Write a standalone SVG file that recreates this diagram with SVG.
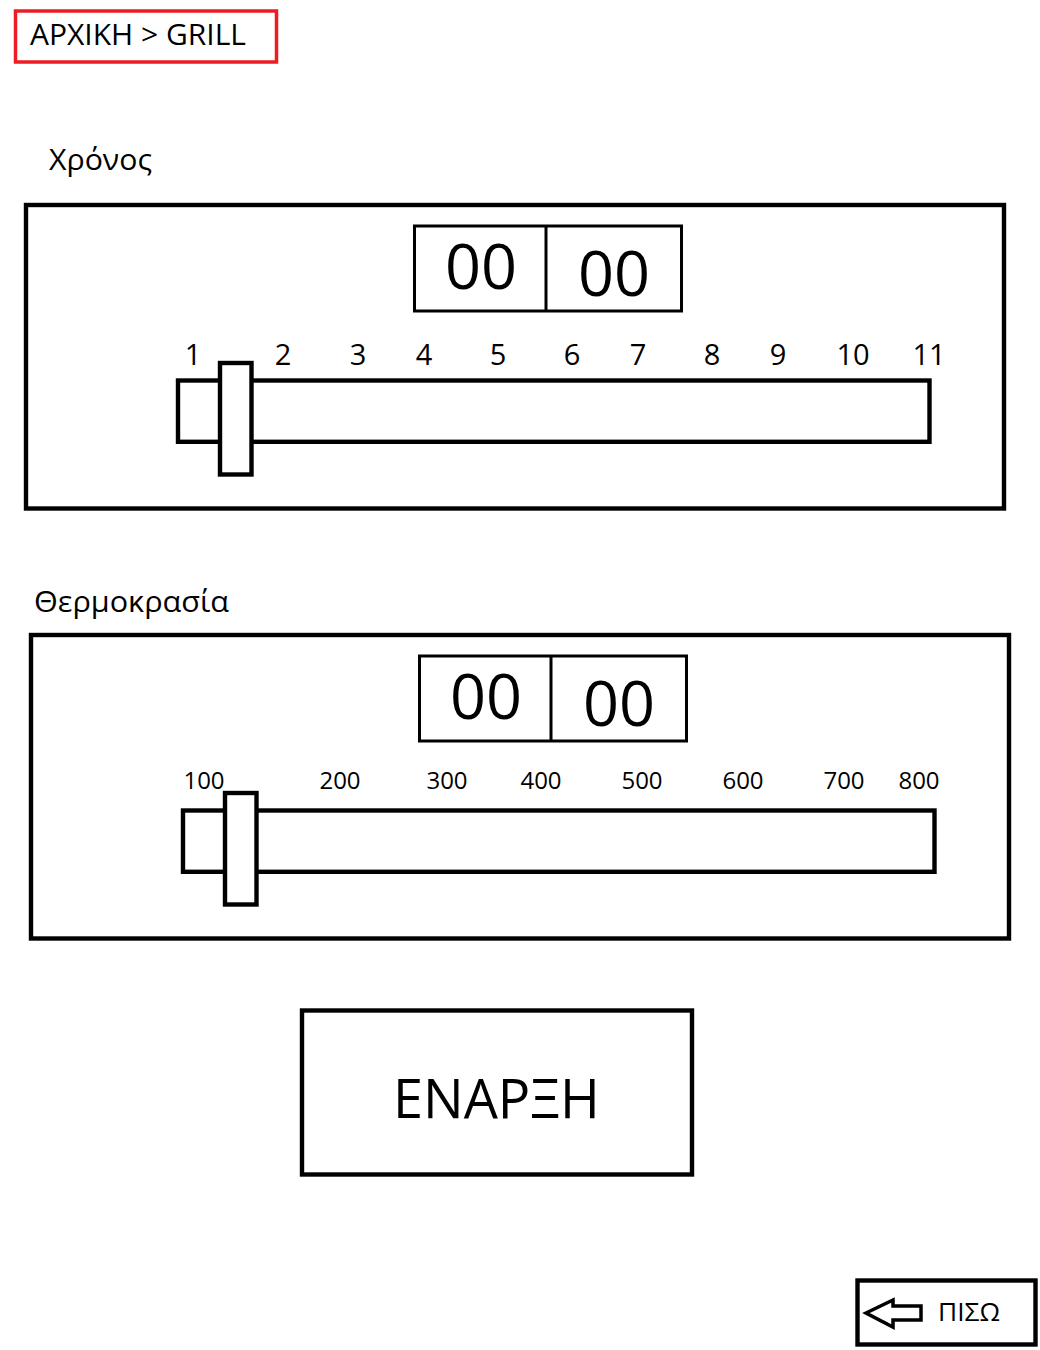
<svg xmlns="http://www.w3.org/2000/svg" width="1040" height="1350" viewBox="0 0 1040 1350">
<style>
text{font-family:"Open Sans","Liberation Sans",sans-serif;fill:#000}
.box{fill:#fff;stroke:#000;stroke-width:4.4}
.dig{fill:#fff;stroke:#000;stroke-width:3}
.lbl{font-size:29px}
.big{font-size:63px;text-anchor:middle}
.tt{font-size:29px;text-anchor:middle}
.tp{font-size:24px;text-anchor:middle}
</style>
<rect width="1040" height="1350" fill="#fff"/>
<g id="breadcrumb">
<rect x="15.5" y="11" width="261" height="51" fill="#fff" stroke="#ed1c24" stroke-width="3.5"/>
<text x="30" y="45" font-size="30">ΑΡΧΙΚΗ &gt; GRILL</text>
</g>
<g id="time-label"><text class="lbl" x="49" y="170" textLength="103" lengthAdjust="spacingAndGlyphs">Χρόνος</text></g>
<g id="time-panel">
<rect class="box" x="26" y="205" width="978" height="303.5"/>
<rect class="dig" x="414.5" y="226" width="267" height="85"/>
<line x1="546" y1="226" x2="546" y2="311" stroke="#000" stroke-width="3"/>
<text class="big" x="481" y="289">00</text>
<text class="big" x="614" y="296">00</text>
<g class="ticks">
<text class="tt" x="193" y="365">1</text>
<text class="tt" x="283" y="365">2</text>
<text class="tt" x="358" y="365">3</text>
<text class="tt" x="424" y="365">4</text>
<text class="tt" x="498" y="365">5</text>
<text class="tt" x="572" y="365">6</text>
<text class="tt" x="638" y="365">7</text>
<text class="tt" x="712" y="365">8</text>
<text class="tt" x="778" y="365">9</text>
<text class="tt" x="853" y="365">10</text>
<text class="tt" x="929" y="365">11</text>
</g>
<rect class="box" x="178" y="380.5" width="751.5" height="61.3"/>
<rect class="box" x="220" y="363" width="31.5" height="111.5"/>
</g>
<g id="temp-label"><text class="lbl" x="34" y="612" textLength="195" lengthAdjust="spacingAndGlyphs">Θερμοκρασία</text></g>
<g id="temp-panel">
<rect class="box" x="31" y="635" width="978" height="303.5"/>
<rect class="dig" x="419.5" y="656" width="267" height="85"/>
<line x1="551" y1="656" x2="551" y2="741" stroke="#000" stroke-width="3"/>
<text class="big" x="486" y="719">00</text>
<text class="big" x="619" y="726">00</text>
<g class="ticks">
<text class="tp" x="204" y="789">100</text>
<text class="tp" x="340" y="789">200</text>
<text class="tp" x="447" y="789">300</text>
<text class="tp" x="541" y="789">400</text>
<text class="tp" x="642" y="789">500</text>
<text class="tp" x="743" y="789">600</text>
<text class="tp" x="844" y="789">700</text>
<text class="tp" x="919" y="789">800</text>
</g>
<rect class="box" x="183" y="810.5" width="751.5" height="61.3"/>
<rect class="box" x="225" y="793" width="31.5" height="111.5"/>
</g>
<g id="start-button">
<rect class="box" x="302" y="1010.5" width="390" height="164"/>
<text x="496.5" y="1118" font-size="54" text-anchor="middle">ΕΝΑΡΞΗ</text>
</g>
<g id="back-button">
<rect class="box" x="857.5" y="1280.5" width="178" height="64"/>
<polygon points="866,1313 893,1300 893,1306 921,1306 921,1320 893,1320 893,1327" fill="#fff" stroke="#000" stroke-width="3.5" stroke-linejoin="miter"/>
<text x="938" y="1321" font-size="25" textLength="62" lengthAdjust="spacingAndGlyphs">ΠΙΣΩ</text>
</g>
<g id="connectors"></g>
</svg>
